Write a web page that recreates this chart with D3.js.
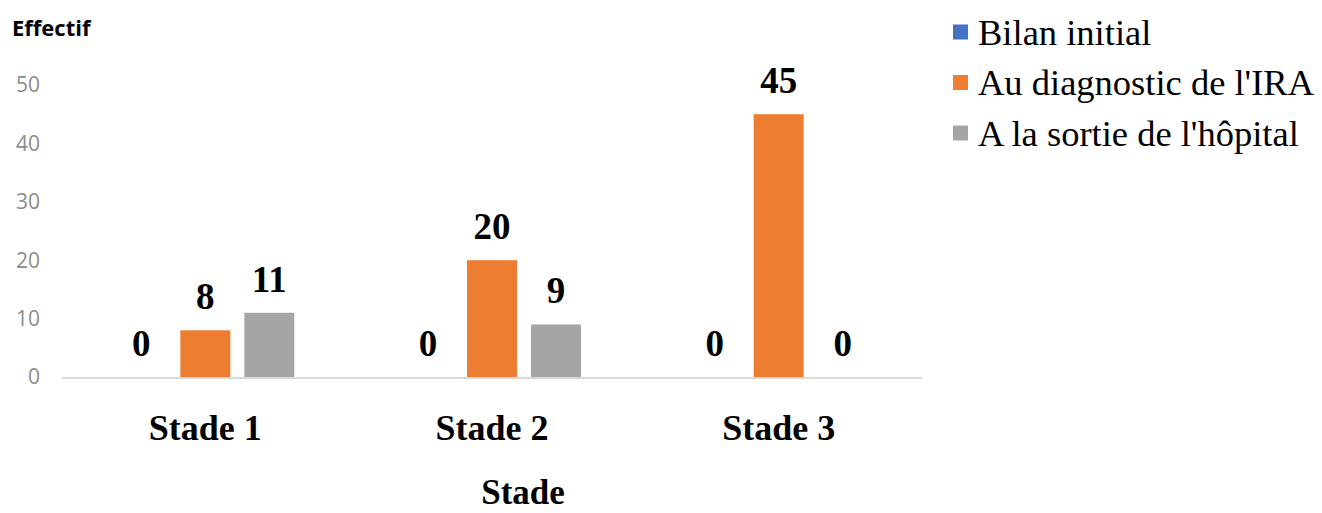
<!DOCTYPE html>
<html lang="fr">
<head>
<meta charset="utf-8">
<script src="https://d3js.org/d3.v7.min.js"></script>
<style>
  body { margin: 0; background: #fff; }
  svg { display: block; }
</style>
</head>
<body>
<div id="chart"></div>
<script>
// data
const categories = ["Stade 1", "Stade 2", "Stade 3"];
const seriesNames = ["Bilan initial", "Au diagnostic de l'IRA", "A la sortie de l'hôpital"];
const bilanInitial = [0, 0, 0];
const auDiagnostic = [8, 20, 45];
const alaSortie = [11, 9, 0];
const yTicks = [0, 10, 20, 30, 40, 50];
const colors = ["#4472C4", "#ED7D31", "#A5A5A5"];

const W = 1322, H = 513;
const plotLeft = 62, plotRight = 922, plotTop = 85, plotBottom = 377;

const svg = d3.select("#chart").append("svg")
  .attr("width", W).attr("height", H);

const series = [bilanInitial, auDiagnostic, alaSortie];
const rows = categories.map((c, i) => ({
  cat: c,
  vals: series.map((s, k) => ({ key: k, v: s[i] }))
}));

const x = d3.scaleBand().domain(categories).range([plotLeft, plotRight]).padding(0);
const y = d3.scaleLinear().domain([0, 50]).range([plotBottom, plotTop]);

// bars inside group: width 50, step 64
const barW = 50, step = 64;
const xs = d3.scaleLinear().domain([0, 2]).range([-step, step]);

// y tick labels
svg.append("g").selectAll("text")
  .data(yTicks).enter().append("text")
  .attr("x", 40)
  .attr("y", d => y(d))
  .attr("dy", "0.35em")
  .attr("text-anchor", "end")
  .attr("font-family", "'Open Sans', 'DejaVu Sans', sans-serif")
  .attr("font-size", 21)
  .attr("fill", "#8c8c8c")
  .text(d => d);

// y title
svg.append("text")
  .attr("x", 12).attr("y", 36)
  .attr("font-family", "'Open Sans', sans-serif")
  .attr("font-weight", "bold")
  .attr("font-size", 22)
  .attr("fill", "#000")
  .text("Effectif");

const g = svg.append("g").selectAll("g")
  .data(rows).enter().append("g")
  .attr("transform", d => "translate(" + (x(d.cat) + x.bandwidth() / 2) + ",0)");

g.selectAll("rect")
  .data(d => d.vals).enter().append("rect")
  .attr("x", d => xs(d.key) - barW / 2)
  .attr("y", d => y(d.v))
  .attr("width", barW)
  .attr("height", d => plotBottom - y(d.v))
  .attr("fill", d => colors[d.key]);

g.selectAll("text.val")
  .data(d => d.vals).enter().append("text")
  .attr("class", "val")
  .attr("x", d => xs(d.key))
  .attr("y", d => y(d.v) - 21)
  .attr("text-anchor", "middle")
  .attr("font-family", "'Liberation Serif', 'Times New Roman', serif")
  .attr("font-weight", "bold")
  .attr("font-size", 37)
  .text(d => d.v);

// baseline
svg.append("line")
  .attr("x1", plotLeft).attr("x2", plotRight)
  .attr("y1", y(0) + 1).attr("y2", y(0) + 1)
  .attr("stroke", "#d9d9d9").attr("stroke-width", 2);

// category labels
svg.append("g").selectAll("text")
  .data(categories).enter().append("text")
  .attr("x", d => x(d) + x.bandwidth() / 2)
  .attr("y", 440)
  .attr("text-anchor", "middle")
  .attr("font-family", "'Liberation Serif', 'Times New Roman', serif")
  .attr("font-weight", "bold")
  .attr("font-size", 36)
  .text(d => d);

// x title
svg.append("text")
  .attr("x", 523).attr("y", 504)
  .attr("text-anchor", "middle")
  .attr("font-family", "'Liberation Serif', 'Times New Roman', serif")
  .attr("font-weight", "bold")
  .attr("font-size", 35)
  .text("Stade");

// legend
const leg = svg.append("g").selectAll("g")
  .data(seriesNames).enter().append("g")
  .attr("transform", (d, i) => "translate(953," + (32 + i * 50.5) + ")");
leg.append("rect")
  .attr("x", 0).attr("y", -7.5)
  .attr("width", 15).attr("height", 15)
  .attr("fill", (d, i) => colors[i]);
leg.append("text")
  .attr("x", 25).attr("y", 0)
  .attr("dy", "0.35em")
  .attr("font-family", "'Liberation Serif', 'Times New Roman', serif")
  .attr("font-size", 36.5)
  .text(d => d);
</script>
</body>
</html>
